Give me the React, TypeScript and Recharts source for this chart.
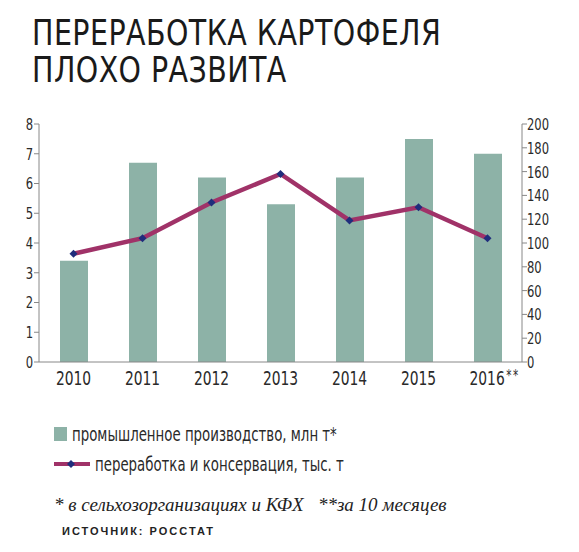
import React from 'react';
import { ComposedChart, Bar, Line, XAxis, YAxis, Legend } from 'recharts';

const years = ['2010', '2011', '2012', '2013', '2014', '2015', '2016**'];
const industrial = [3.4, 6.7, 6.2, 5.3, 6.2, 7.5, 7.0];
const processing = [91, 104, 134, 158, 119, 130, 104];
const leftTicks = [0, 1, 2, 3, 4, 5, 6, 7, 8];
const rightTicks = [0, 20, 40, 60, 80, 100, 120, 140, 160, 180, 200];

const titleLines = ['ПЕРЕРАБОТКА КАРТОФЕЛЯ', 'ПЛОХО РАЗВИТА'];
const legendLabels = ['промышленное производство, млн т*', 'переработка и консервация, тыс. т'];
const footnote = '* в сельхозорганизациях и КФХ \u00A0\u00A0**за 10 месяцев';
const source = 'ИСТОЧНИК: РОССТАТ';

const data = years.map((y, i) => ({ year: y, ind: industrial[i], proc: processing[i] }));

const NARROW = '"Liberation Sans Narrow", "DejaVu Sans Condensed", "Roboto Condensed", sans-serif';
const BAR = '#8db2a7';
const LINE = '#a03268';
const MARK = '#1f2d7c';
const TXT = '#2a2a2a';

const Diamond = (props: any) => {
  const { cx, cy } = props;
  if (cx == null || cy == null) return null;
  const r = 4;
  return <path d={`M${cx},${cy - r}L${cx + r},${cy}L${cx},${cy + r}L${cx - r},${cy}Z`} fill={MARK} />;
};

const XTick = (props: any) => {
  const { x, y, payload } = props;
  const v: string = payload.value;
  if (v.endsWith('**')) {
    const base = v.slice(0, -2);
    return (
      <g transform={`translate(${x - 18},${y + 15}) scale(0.77,1)`}>
        <text x={0} y={0} textAnchor="start" fontFamily={NARROW} fontSize={20} fill={TXT}>
          {base}
          <tspan fontSize={15} dx={2} dy={-4} letterSpacing={2}>**</tspan>
        </text>
      </g>
    );
  }
  return (
    <g transform={`translate(${x},${y + 15}) scale(0.77,1)`}>
      <text x={0} y={0} textAnchor="middle" fontFamily={NARROW} fontSize={20} fill={TXT}>
        {v}
      </text>
    </g>
  );
};

const YTick = (props: any) => {
  const { x, y, payload, textAnchor } = props;
  return (
    <g transform={`translate(${x},${y}) scale(0.78,1)`}>
      <text x={0} y={0} dy="0.36em" textAnchor={textAnchor} fontFamily={NARROW} fontSize={16.5} fill={TXT}>
        {payload.value}
      </text>
    </g>
  );
};

const labelStyle: React.CSSProperties = {
  display: 'inline-block',
  transform: 'scaleX(0.78)',
  transformOrigin: 'left center',
  whiteSpace: 'nowrap',
};

const LegendContent = () => (
  <div style={{ fontFamily: NARROW, fontSize: 19, color: TXT, lineHeight: '30px' }}>
    <div style={{ display: 'flex', alignItems: 'center' }}>
      <span style={{ display: 'inline-block', width: 13, height: 14, background: BAR, marginRight: 5 }} />
      <span style={labelStyle}>{legendLabels[0]}</span>
    </div>
    <div style={{ display: 'flex', alignItems: 'center' }}>
      <svg width={36} height={12} style={{ marginRight: 5 }}>
        <line x1={0} y1={6} x2={36} y2={6} stroke={LINE} strokeWidth={4} />
        <path d="M17,2L21,6L17,10L13,6Z" fill={MARK} />
      </svg>
      <span style={labelStyle}>{legendLabels[1]}</span>
    </div>
  </div>
);

export default function App() {
  return (
    <div style={{ position: 'absolute', left: 0, top: 0, width: 579, height: 552, background: '#fff' }}>
      <div
        style={{
          position: 'absolute',
          left: 32,
          top: 14,
          fontFamily: NARROW,
          fontSize: 36,
          lineHeight: '37px',
          color: '#1a1a1a',
          letterSpacing: 0.5,
          whiteSpace: 'nowrap',
          transform: 'scaleX(0.88)',
          transformOrigin: 'left top',
        }}
      >
        <div>{titleLines[0]}</div>
        <div>{titleLines[1]}</div>
      </div>
      <ComposedChart
        width={579}
        height={552}
        data={data}
        margin={{ top: 124, right: 0, bottom: 160, left: 0 }}
        barCategoryGap={0}
        style={{ position: 'absolute', left: 0, top: 0 }}
      >
        <XAxis
          dataKey="year"
          axisLine={{ stroke: '#888', strokeWidth: 1 }}
          tickLine={false}
          height={30}
          tick={<XTick />}
          interval={0}
        />
        <YAxis
          yAxisId="left"
          orientation="left"
          width={39}
          domain={[0, 8]}
          ticks={leftTicks}
          interval={0}
          axisLine={{ stroke: '#888' }}
          tickLine={{ stroke: '#888' }}
          tickSize={5}
          tickMargin={1}
          tick={<YTick />}
        />
        <YAxis
          yAxisId="right"
          orientation="right"
          width={57}
          domain={[0, 200]}
          ticks={rightTicks}
          interval={0}
          axisLine={{ stroke: '#888' }}
          tickLine={{ stroke: '#888' }}
          tickSize={5}
          tickMargin={0}
          tick={<YTick />}
        />
        <Bar yAxisId="left" dataKey="ind" fill={BAR} barSize={28} isAnimationActive={false} />
        <Line
          yAxisId="right"
          dataKey="proc"
          type="linear"
          stroke={LINE}
          strokeWidth={4.5}
          dot={<Diamond />}
          activeDot={false}
          isAnimationActive={false}
        />
        <Legend
          layout="vertical"
          align="center"
          verticalAlign="middle"
          content={<LegendContent />}
          wrapperStyle={{ left: 54, top: 419, width: 400, height: 62 }}
        />
      </ComposedChart>
      <div
        style={{
          position: 'absolute',
          left: 54,
          top: 494,
          fontFamily: '"Liberation Serif", "DejaVu Serif", serif',
          fontStyle: 'italic',
          fontSize: 19,
          color: '#222',
          whiteSpace: 'pre',
        }}
      >
        {footnote}
      </div>
      <div
        style={{
          position: 'absolute',
          left: 62,
          top: 525,
          fontFamily: '"Liberation Sans", Arial, sans-serif',
          fontWeight: 'bold',
          fontSize: 11,
          letterSpacing: 2,
          color: '#222',
          whiteSpace: 'nowrap',
        }}
      >
        {source}
      </div>
    </div>
  );
}
